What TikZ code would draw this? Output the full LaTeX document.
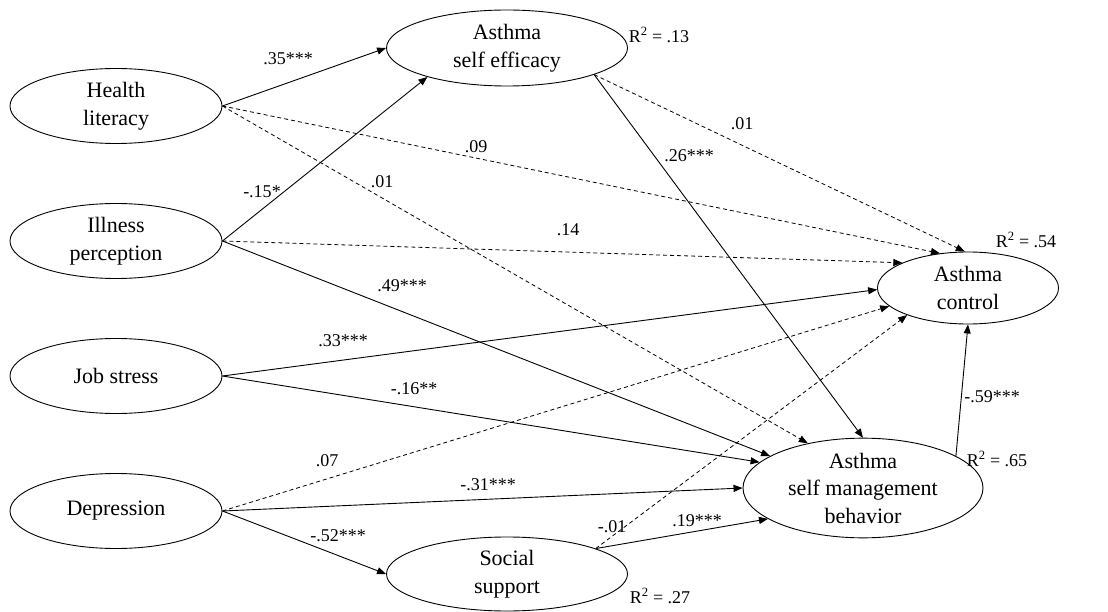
\documentclass[tikz,border=0pt]{standalone}
\usepackage{fontspec}
\setmainfont{Liberation Serif}
\usetikzlibrary{shapes.geometric,arrows.meta}
\begin{document}
\begin{tikzpicture}[x=1pt,y=-1pt,
 var/.style={ellipse,draw,line width=0.9pt,inner sep=0pt,align=center,font=\fontsize{22}{27.5}\selectfont},
 lbl/.style={inner sep=0pt,font=\fontsize{18}{20}\selectfont},
 sig/.style={line width=0.9pt,-{Triangle[length=9pt,width=7pt]}},
 ns/.style={line width=0.8pt,dash pattern=on 4pt off 3pt,-{Triangle[length=9pt,width=7pt]}}]
\useasboundingbox (0,0) rectangle (1108,612);
% variables
\node[var,minimum width=212pt,minimum height=75pt] (hl) at (116,106) {Health\\literacy};
\node[var,minimum width=212pt,minimum height=75pt] (ip) at (116,241) {Illness\\perception};
\node[var,minimum width=212pt,minimum height=75pt] (js) at (116,376) {Job stress};
\node[var,minimum width=212pt,minimum height=75pt] (dep) at (116,511) {Depression};
\node[var,minimum width=241pt,minimum height=76pt] (ase) at (507,48) {Asthma\\self efficacy};
\node[var,minimum width=181pt,minimum height=72pt] (ac) at (968,288) {Asthma\\control};
\node[var,minimum width=240pt,minimum height=80pt] (smb) at (863,488) {Asthma\\self management\\behavior};
\node[var,minimum width=241pt,minimum height=74pt] (ss) at (507,574) {Social\\support};
% paths
\draw[sig] (hl.east) -- (ase.180);
\draw[sig] (ip.east) -- (ase.200);
\draw[ns] (hl.east) -- (ac.129);
\draw[ns] (hl.east) -- (smb.141);
\draw[ns] (ase.-17) -- (ac.95);
\draw[sig] (ase.-17) -- (smb.90);
\draw[ns] (ip.east) -- (ac.159);
\draw[sig] (ip.east) -- (smb.161);
\draw[sig] (js.east) -- (ac.181);
\draw[sig] (js.east) -- (smb.166);
\draw[ns] (dep.east) -- (ac.193);
\draw[sig] (dep.east) -- (smb.180);
\draw[sig] (dep.east) -- (ss.180);
\draw[ns] (ss.16) -- (ac.204);
\draw[sig] (ss.16) -- (smb.198);
\draw[sig] (smb.19) -- (ac.270);
% labels
\node[lbl] (l1) at (288,59) {.35***};
\node[lbl] (l2) at (476,147) {.09};
\node[lbl] (l3) at (382,182) {.01};
\node[lbl] (l4) at (262,192) {-.15*};
\node[lbl] (l5) at (402,286) {.49***};
\node[lbl] (r1) at (659,35) {R\textsuperscript{2} = .13};
\node[lbl] (l6) at (742,124) {.01};
\node[lbl] (l7) at (689,156) {.26***};
\node[lbl] (l8) at (568,230) {.14};
\node[lbl] (r2) at (1026,240) {R\textsuperscript{2} = .54};
\node[lbl] (l9) at (343,341) {.33***};
\node[lbl] (l10) at (414,389) {-.16**};
\node[lbl] (l11) at (327,461) {.07};
\node[lbl] (l12) at (488,485) {-.31***};
\node[lbl] (l13) at (338,536) {-.52***};
\node[lbl] (l14) at (992,397) {-.59***};
\node[lbl] (r3) at (997,459) {R\textsuperscript{2} = .65};
\node[lbl] (l15) at (612,527) {-.01};
\node[lbl] (l16) at (697,521) {.19***};
\node[lbl] (r4) at (660,596) {R\textsuperscript{2} = .27};
\end{tikzpicture}
\end{document}
